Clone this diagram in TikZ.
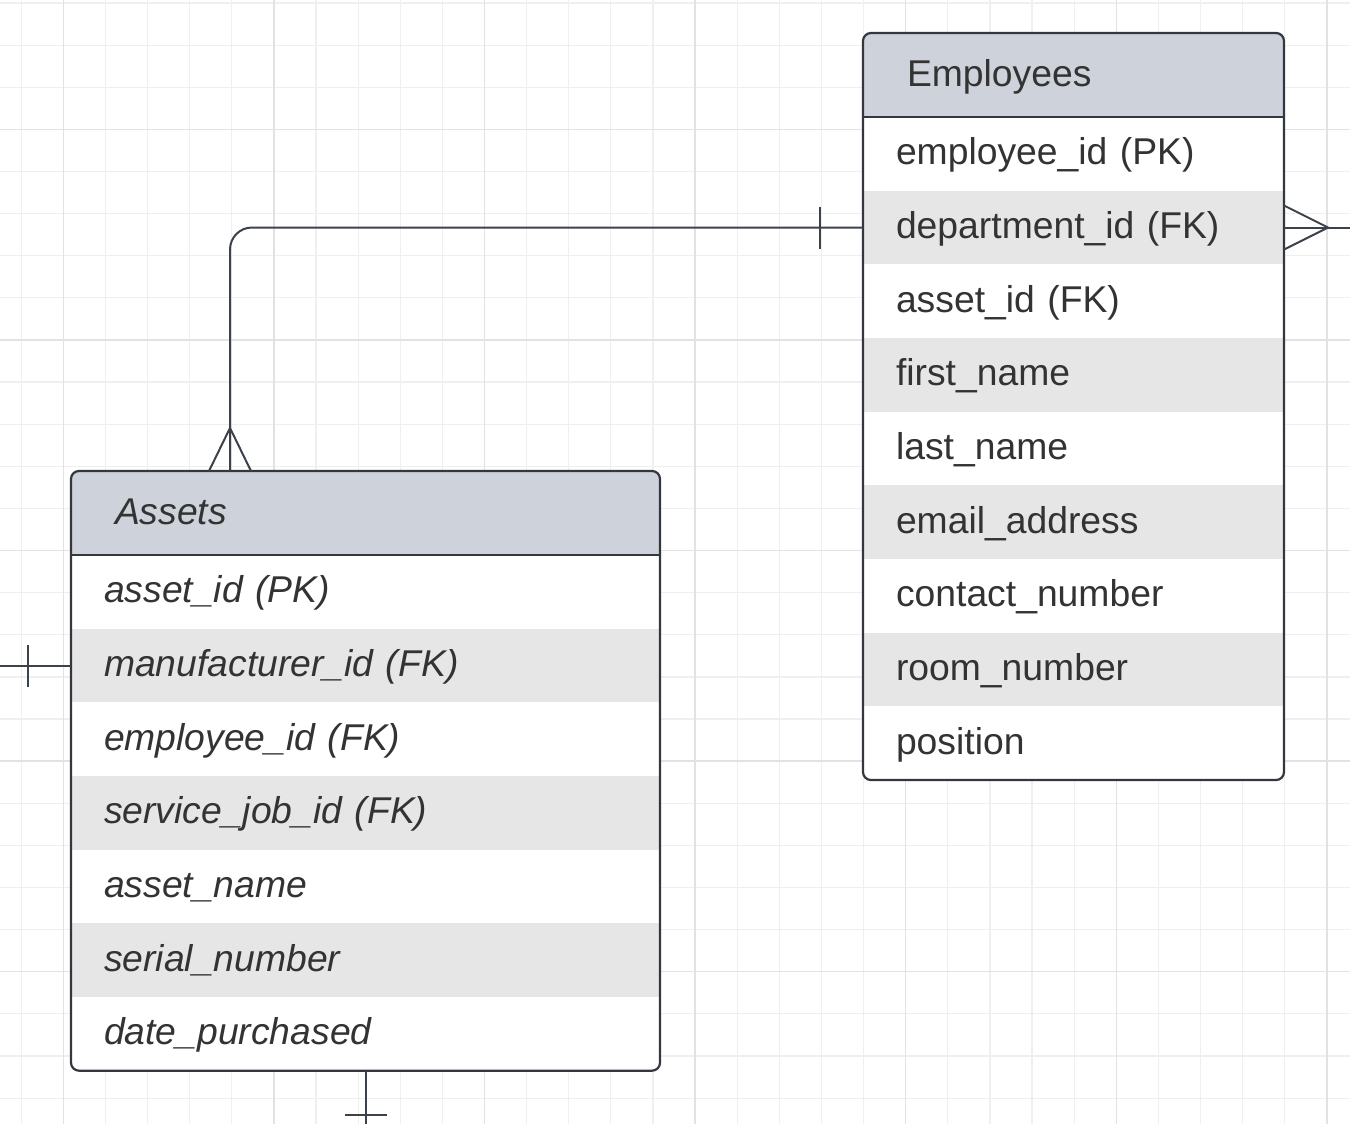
\documentclass[tikz,border=0pt]{standalone}
\usepackage{fontspec}
\setmainfont{Liberation Sans}
\usetikzlibrary{positioning,calc}
\definecolor{ink}{HTML}{333333}
\definecolor{frame}{HTML}{34383E}
\definecolor{wire}{HTML}{3C424B}
\definecolor{hdrfill}{HTML}{CED3DB}
\definecolor{rowfill}{HTML}{E6E6E6}
\definecolor{gridminor}{HTML}{EFEFEF}
\definecolor{gridmajor}{HTML}{E2E2E2}
\pgfdeclarelayer{grid}
\pgfdeclarelayer{fills}
\pgfsetlayers{grid,fills,main}
\tikzset{
  cell/.style={rectangle, inner ysep=0pt, inner xsep=33pt, outer sep=0pt,
    minimum height=73.67pt, text height=22pt, text depth=0pt, align=left, text=ink,
    font=\fontsize{37.3}{44}\selectfont},
  ecell/.style={cell, text width=355pt},
  acell/.style={cell, text width=523pt, font=\fontsize{37.3}{44}\selectfont\itshape},
  ehead/.style={cell, inner xsep=44pt, text width=333pt, minimum height=84pt},
  ahead/.style={cell, inner xsep=44pt, text width=501pt, minimum height=84pt,
    font=\fontsize{37.3}{44}\selectfont\itshape},
  border/.style={draw=frame, line width=2.2pt},
  conn/.style={draw=wire, line width=2pt},
}
\begin{document}
\begin{tikzpicture}[x=1pt, y=-1pt]
  \useasboundingbox (0,0) rectangle (1350,1124);
  \coordinate (origin) at (0,0);
  \coordinate (corner) at (1350,1124);

  % background grid
  \begin{pgfonlayer}{grid}
    \fill[white] (0,0) rectangle (1350,1124);
    \foreach \i in {0,...,31} {
      \pgfmathsetmacro\gx{21.2+42.12*\i}
      \draw[gridminor, line width=1.2pt] (\gx,0) -- (\gx,1124);
    }
    \foreach \j in {0,...,26} {
      \pgfmathsetmacro\gy{3.0+42.12*\j}
      \draw[gridminor, line width=1.2pt] (0,\gy) -- (1350,\gy);
    }
    \foreach \k in {0,...,6} {
      \pgfmathsetmacro\gx{63.3+210.6*\k}
      \draw[gridmajor, line width=1.3pt] (\gx,0) -- (\gx,1124);
    }
    \foreach \k in {0,...,4} {
      \pgfmathsetmacro\gy{129.3+210.6*\k}
      \draw[gridmajor, line width=1.3pt] (0,\gy) -- (1350,\gy);
    }
  \end{pgfonlayer}

  % Employees table
  \node[ehead, anchor=north west] (Ehd) at (863,33) {Employees};
  \node[ecell, below=0pt of Ehd] (E1) {employee\_id (PK)};
  \node[ecell, below=0pt of E1] (E2) {department\_id (FK)};
  \node[ecell, below=0pt of E2] (E3) {asset\_id (FK)};
  \node[ecell, below=0pt of E3] (E4) {first\_name};
  \node[ecell, below=0pt of E4] (E5) {last\_name};
  \node[ecell, below=0pt of E5] (E6) {email\_address};
  \node[ecell, below=0pt of E6] (E7) {contact\_number};
  \node[ecell, below=0pt of E7] (E8) {room\_number};
  \node[ecell, below=0pt of E8] (E9) {position};

  % Assets table
  \node[ahead, anchor=north west] (Ahd) at (71,471) {Assets};
  \node[acell, below=0pt of Ahd] (A1) {asset\_id (PK)};
  \node[acell, below=0pt of A1] (A2) {manufacturer\_id (FK)};
  \node[acell, below=0pt of A2] (A3) {employee\_id (FK)};
  \node[acell, below=0pt of A3] (A4) {service\_job\_id (FK)};
  \node[acell, below=0pt of A4] (A5) {asset\_name};
  \node[acell, below=0pt of A5] (A6) {serial\_number};
  \node[acell, below=0pt of A6] (A7) {date\_purchased};

  % table fills
  \begin{pgfonlayer}{fills}
    \fill[white, rounded corners=8pt] (Ehd.north west) rectangle (E9.south east);
    \begin{scope}
      \clip[rounded corners=8pt] (Ehd.north west) rectangle (E9.south east);
      \fill[hdrfill] (Ehd.north west) rectangle (Ehd.south east);
      \foreach \r in {2,4,6,8}
        \fill[rowfill] (E\r.north west) rectangle (E\r.south east);
    \end{scope}
    \fill[white, rounded corners=8pt] (Ahd.north west) rectangle (A7.south east);
    \begin{scope}
      \clip[rounded corners=8pt] (Ahd.north west) rectangle (A7.south east);
      \fill[hdrfill] (Ahd.north west) rectangle (Ahd.south east);
      \foreach \r in {2,4,6}
        \fill[rowfill] (A\r.north west) rectangle (A\r.south east);
    \end{scope}
  \end{pgfonlayer}

  % table outlines
  \draw[border, rounded corners=8pt] (Ehd.north west) rectangle (E9.south east);
  \draw[border] (Ehd.south west) -- (Ehd.south east);
  \draw[border, rounded corners=8pt] (Ahd.north west) rectangle (A7.south east);
  \draw[border] (Ahd.south west) -- (Ahd.south east);

  % department_id -> Assets (one to many)
  \coordinate (aTop) at ([xshift=159pt]Ahd.north west);
  \draw[conn, rounded corners=22pt] (E2.west) -| (aTop);
  \draw[conn] ([xshift=-43pt,yshift=21pt]E2.west) -- ([xshift=-43pt,yshift=-21pt]E2.west);
  \draw[conn] ([xshift=-21pt]aTop) -- ([yshift=43pt]aTop) -- ([xshift=21pt]aTop);

  % department_id, many side to the right
  \coordinate (eRight) at (E2.east -| corner);
  \draw[conn] (E2.east) -- (eRight);
  \draw[conn] ([yshift=22pt]E2.east) -- ([xshift=44pt]E2.east) -- ([yshift=-22pt]E2.east);

  % manufacturer_id, one side to the left
  \coordinate (aLeft) at (A2.west -| origin);
  \draw[conn] (A2.west) -- (aLeft);
  \draw[conn] ([xshift=-43pt,yshift=21pt]A2.west) -- ([xshift=-43pt,yshift=-21pt]A2.west);

  % Assets bottom, one side downwards
  \coordinate (aBottom) at (A7.south |- corner);
  \draw[conn] (A7.south) -- (aBottom);
  \draw[conn] ([xshift=-21pt,yshift=-44pt]A7.south) -- ([xshift=21pt,yshift=-44pt]A7.south);
\end{tikzpicture}
\end{document}
